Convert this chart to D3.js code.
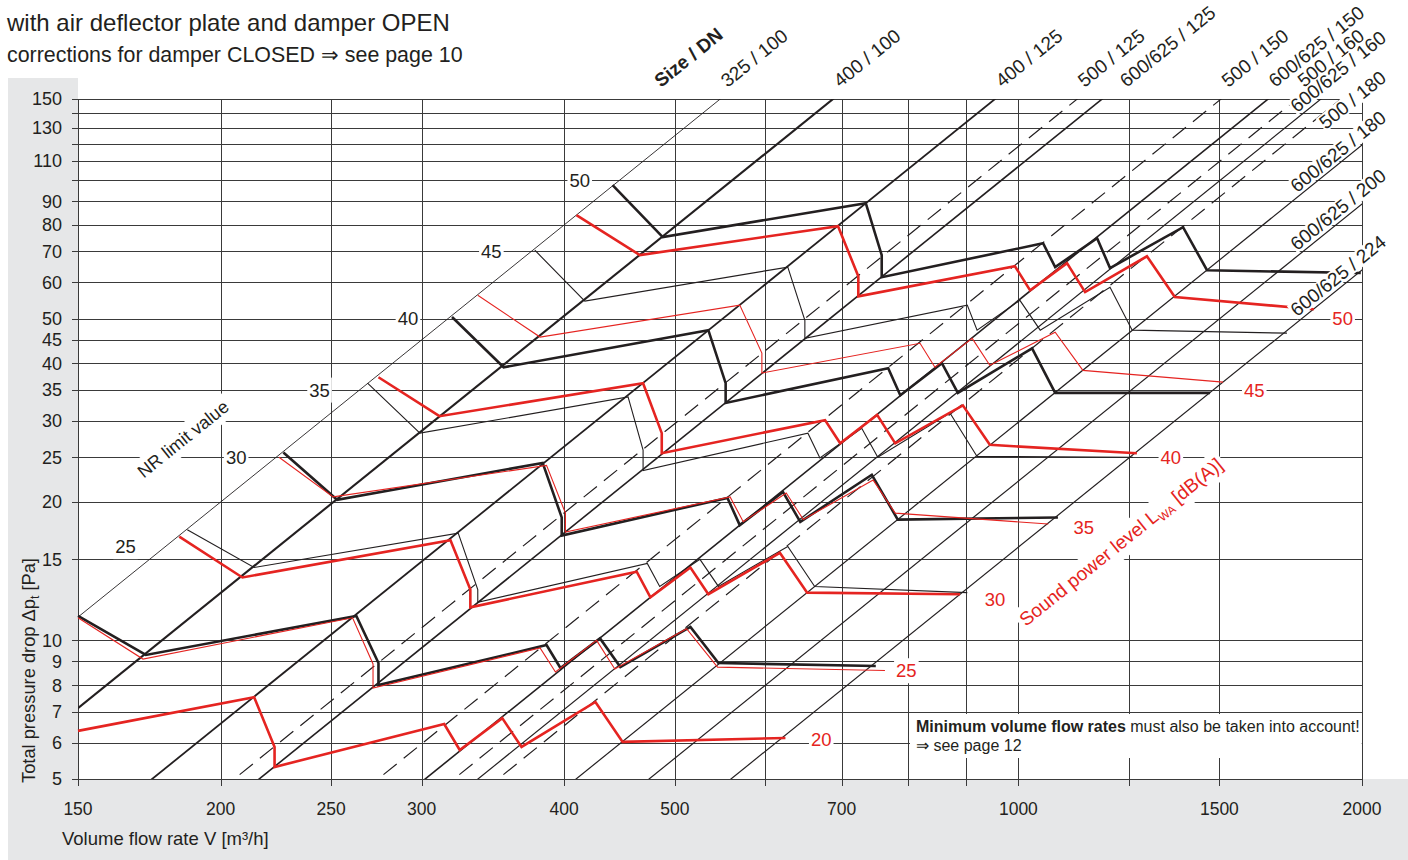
<!DOCTYPE html>
<html>
<head>
<meta charset="utf-8">
<script src="https://cdn.jsdelivr.net/npm/d3@7"></script>
<style>
  body { margin: 0; background: #fff; }
  svg { font-family: "Liberation Sans", Arial, sans-serif; }
</style>
</head>
<body>
<svg width="1408" height="860"></svg>
<script>
// ---- data ----
const flowTicks = [150, 200, 250, 300, 400, 500, 700, 1000, 1500, 2000];
const flowGrid = [150, 200, 250, 300, 400, 500, 600, 700, 800, 900, 1000, 1250, 1500, 2000];
const dpTicks = [5, 6, 7, 8, 9, 10, 15, 20, 25, 30, 35, 40, 45, 50, 60, 70, 80, 90, 110, 130, 150];
const dpGrid = [5, 6, 7, 8, 9, 10, 15, 20, 25, 30, 35, 40, 45, 50, 60, 70, 80, 90, 100, 110, 120, 130, 140, 150];

// size / DN characteristics (dp ~ V^2): flow rate at which each reaches 150 Pa
const sizeNames = ['325 / 100', '400 / 100', '400 / 125', '500 / 125', '600/625 / 125', '500 / 150',
  '600/625 / 150', '500 / 160', '600/625 / 160', '500 / 180', '600/625 / 180', '600/625 / 200', '600/625 / 224'];
const sizeFlowAt150 = [548, 688, 954, 1126, 1184, 1505, 1655, 1754, 1841, 1917, 2244, 2600, 3067];

// NR limit curves [flow m3/h, dp Pa]
const nrLabels = ['', '25', '30', '35', '40', '45', '50'];
const nrLabelDp = [null, 16, 25, 35, 50, 70, 100];
const nrCurves = [
  [[150,11.3],[172,9.30],[263,11.3],[275,8.93],[275,8.0],[386,9.77],[397,8.71],[430,10.1],[448,8.75],[516,10.7],[546,8.93],[750,8.80]],
  [[187,17.4],[214,14.4],[323,17.1],[336,12.9],[336,12.1],[473,14.7],[485,13.1],[526,15.0],[546,13.1],[628,16.0],[663,13.1],[902,12.7]],
  [[227,25.6],[253,20.2],[383,24.3],[398,18.5],[398,16.9],[556,20.4],[570,17.8],[622,21.0],[644,18.1],[744,22.9],[784,18.3],[1083,18.5]],
  [[269,36.2],[299,28.2],[455,33.8],[469,25.9],[469,23.4],[654,28.2],[670,24.9],[729,28.9],[753,25.0],[871,31.2],[920,25.1],[1260,25.0]],
  [[319,50.4],[354,39.2],[535,47.2],[554,36.2],[554,32.8],[769,39.0],[788,34.1],[857,40.0],[885,34.5],[1028,43.1],[1077,34.5],[1472,34.5]],
  [[377,70.4],[417,54.6],[628,64.7],[650,49.6],[650,45.3],[902,53.5],[920,47.2],[1003,54.8],[1045,47.2],[1203,58.5],[1258,47.2],[1719,46.5]],
  [[441,97.5],[488,75.2],[735,89.1],[759,68.7],[759,61.5],[1051,72.9],[1077,64.7],[1172,74.8],[1203,64.4],[1394,79.0],[1463,63.7],[1995,62.8]]
];

// sound power level curves LWA dB(A) [flow m3/h, dp Pa]
const lwaLabels = ['20', '25', '30', '35', '40', '45', '50'];
const lwaLabelDp = [6.1, 8.6, 12.3, 17.6, 25, 35, 50];
const lwaCurves = [
  [[150,6.36],[214,7.53],[223,5.87],[223,5.31],[314,6.58],[324,5.78],[353,6.78],[367,5.87],[426,7.35],[450,6.02],[625,6.14]],
  [[150,11.2],[171,9.11],[261,11.2],[272,8.89],[272,7.88],[381,9.63],[393,8.54],[427,10.0],[443,8.67],[512,10.6],[545,8.75],[764,8.60]],
  [[184,16.8],[209,13.7],[318,16.5],[331,12.9],[331,11.8],[463,14.1],[476,12.4],[516,14.4],[535,12.6],[618,15.5],[653,12.7],[889,12.6]],
  [[225,25.0],[251,20.5],[386,24.0],[401,18.9],[401,17.2],[559,20.5],[574,18.1],[626,20.9],[648,18.3],[746,22.3],[780,18.9],[1062,17.9]],
  [[275,37.3],[311,30.7],[469,36.2],[487,28.2],[487,25.5],[677,30.1],[698,26.8],[752,30.9],[780,26.8],[894,32.4],[944,26.6],[1270,25.5]],
  [[336,56.2],[381,45.6],[570,53.5],[596,42.1],[596,38.1],[820,44.2],[845,39.2],[911,45.3],[944,39.6],[1077,46.7],[1139,38.6],[1511,36.4]],
  [[410,83.9],[466,68.7],[695,79.4],[724,61.8],[724,55.9],[993,65.0],[1024,57.6],[1103,66.0],[1144,57.1],[1296,68.3],[1371,55.7],[1815,52.4]]
];

// ---- drawing ----
const BLACK = '#231f20', RED = '#e52421';
const svg = d3.select('svg');
const x = d3.scaleLog().domain([150, 2000]).range([78, 1362]);
const y = d3.scaleLog().domain([5, 150]).range([779, 99]);
const slope = 2 * (y(5) - y(150)) / Math.log(30) / ((x(2000) - x(150)) / Math.log(2000 / 150));
const ang = -Math.atan(slope) * 180 / Math.PI;
// flow on a size characteristic for a given pressure drop
const onSize = (v150, dp) => v150 * Math.sqrt(dp / 150);

svg.append('rect').attr('x', 8).attr('y', 78).attr('width', 1400).attr('height', 782).attr('fill', '#e6e7e8');
svg.append('rect').attr('x', 78).attr('y', 78).attr('width', 1330).attr('height', 701).attr('fill', '#fff');

// text with a white box behind it (breaks the grid lines like the original)
function boxed(t, pad, trim = 0) {
  const b = t.node().getBBox();
  d3.select(t.node().parentNode).insert('rect', () => t.node())
    .attr('x', b.x - pad).attr('y', b.y - pad + trim)
    .attr('width', b.width + 2 * pad).attr('height', b.height + 2 * pad - 2 * trim)
    .attr('transform', t.attr('transform'))
    .attr('fill', '#fff');
  return t;
}

// title lines
svg.append('text').attr('x', 7).attr('y', 31).attr('font-size', 24).attr('fill', BLACK)
  .text('with air deflector plate and damper OPEN');
svg.append('text').attr('x', 7).attr('y', 62).attr('font-size', 21.4).attr('fill', BLACK)
  .text('corrections for damper CLOSED \u21D2 see page 10');

// grid
const grid = svg.append('g').attr('stroke', '#3a3a3a').attr('stroke-width', 1).attr('shape-rendering', 'crispEdges');
grid.selectAll('.h').data(dpGrid).join('line').attr('class', 'h')
  .attr('x1', 72).attr('x2', x(2000)).attr('y1', d => Math.round(y(d))).attr('y2', d => Math.round(y(d)));
grid.selectAll('.v').data(flowGrid).join('line').attr('class', 'v')
  .attr('y1', y(150)).attr('y2', y(5) + 7).attr('x1', d => Math.round(x(d))).attr('x2', d => Math.round(x(d)));

// tick labels
svg.append('g').selectAll('text').data(dpTicks).join('text')
  .attr('x', 62).attr('y', d => y(d)).attr('dy', '0.36em').attr('text-anchor', 'end')
  .attr('font-size', 18).attr('fill', BLACK).text(d => d);
svg.append('g').selectAll('text').data(flowTicks).join('text')
  .attr('x', d => x(d)).attr('y', 815).attr('text-anchor', 'middle')
  .attr('font-size', 17.5).attr('fill', BLACK).text(d => d);

// axis titles
const yt = svg.append('text').attr('transform', 'translate(35,783) rotate(-90)')
  .attr('font-size', 18.3).attr('fill', BLACK);
yt.append('tspan').text('Total pressure drop \u0394p');
yt.append('tspan').attr('font-size', 12).attr('dy', 4).text('t');
yt.append('tspan').attr('dy', -4).text(' [Pa]');
svg.append('text').attr('x', 62).attr('y', 845).attr('font-size', 18.5).attr('fill', BLACK)
  .text('Volume flow rate V [m\u00B3/h]');

// size lines
svg.append('clipPath').attr('id', 'plot').append('rect')
  .attr('x', 78).attr('y', 99).attr('width', x(2000) - 78).attr('height', y(5) - y(150));
const sizes = svg.append('g').attr('clip-path', 'url(#plot)').attr('fill', 'none').attr('stroke', BLACK);
const line = d3.line().x(d => x(d[0])).y(d => y(d[1]));
sizes.selectAll('path').data(sizeFlowAt150).join('path')
  .attr('d', d => line([[onSize(d, 4), 4], [onSize(d, 160), 160]]))
  .attr('stroke-width', (d, i) => {
    const n = sizeNames[i];
    if (n === '325 / 100') return 0.9;
    if (n === '400 / 100') return 2.1;
    if (n === '400 / 125') return 1.8;
    if (n === '600/625 / 125' || n === '600/625 / 150') return 1.6;
    return 1.2;
  })
  .attr('stroke-dasharray', (d, i) => sizeNames[i].startsWith('500') ? '17,9' : null);

// curves
const curves = svg.append('g').attr('fill', 'none').attr('stroke-linejoin', 'miter');
curves.selectAll('.nr').data(nrCurves).join('path').attr('class', 'nr')
  .attr('d', line).attr('stroke', BLACK).attr('stroke-width', (d, i) => i % 2 === 0 ? 2.6 : 1.1);
curves.selectAll('.lwa').data(lwaCurves).join('path').attr('class', 'lwa')
  .attr('d', line).attr('stroke', RED).attr('stroke-width', (d, i) => i % 2 === 0 ? 2.6 : 1.1);

// labels
const labels = svg.append('g');
nrLabels.forEach((lab, i) => {
  if (!lab) return;
  const p = nrLabelDp[i];
  const t = labels.append('text').attr('transform', `translate(${x(onSize(sizeFlowAt150[0], p)) - 40},${y(p)})`)
    .attr('text-anchor', 'middle').attr('dy', '0.36em').attr('font-size', 18.5).attr('fill', BLACK).text(lab);
  boxed(t, 2);
});
const last = sizeFlowAt150[sizeFlowAt150.length - 1];
lwaLabels.forEach((lab, i) => {
  const p = lwaLabelDp[i];
  const t = labels.append('text').attr('transform', `translate(${x(onSize(last, p)) + 41},${y(p)})`)
    .attr('text-anchor', 'middle').attr('dy', '0.36em').attr('font-size', 18.5).attr('fill', RED).text(lab);
  boxed(t, 2);
});

// size labels: along the top edge, or stacked at the right edge
let prevTop = -Infinity, prevRight = -Infinity;
sizeFlowAt150.forEach((v, i) => {
  let px, py, anchor = 'start';
  if (x(v) <= 1300) {
    px = x(onSize(v, 156)); py = y(156);
    if (px - prevTop < 28) px = prevTop + 42;   // keep close labels apart
    prevTop = px;
  } else {
    px = 1390; anchor = 'end';
    py = Math.max(y(150 * Math.pow(x.invert(px) / v, 2)), prevRight + 40);
    prevRight = py;
  }
  const t = labels.append('text').attr('transform', `translate(${px},${py}) rotate(${ang})`)
    .attr('text-anchor', anchor).attr('dy', -4).attr('font-size', 19).attr('fill', BLACK).text(sizeNames[i]);
  boxed(t, 1, 3);
});
labels.append('text').attr('transform', `translate(661,88) rotate(${ang})`)
  .attr('font-size', 19).attr('font-weight', 'bold').attr('fill', BLACK).text('Size / DN');

boxed(labels.append('text').attr('transform', `translate(183,439) rotate(${ang})`)
  .attr('text-anchor', 'middle').attr('dy', '0.35em').attr('font-size', 18).attr('fill', BLACK)
  .text('NR limit value'), 3);

const sp = labels.append('text').attr('transform', `translate(1026,627) rotate(${ang})`)
  .attr('font-size', 19).attr('fill', RED);
sp.append('tspan').text('Sound power level L');
sp.append('tspan').attr('font-size', 11.5).attr('dy', 4).text('WA');
sp.append('tspan').attr('dy', -4).text(' [dB(A)]');
boxed(sp, 3);

// note
const note = labels.append('g');
const n1 = note.append('text').attr('x', 916).attr('y', 732).attr('font-size', 16).attr('fill', BLACK);
n1.append('tspan').attr('font-weight', 'bold').text('Minimum volume flow rates');
n1.append('tspan').text(' must also be taken into account!');
const n2 = note.append('text').attr('x', 916).attr('y', 751).attr('font-size', 16).attr('fill', BLACK)
  .text('\u21D2 see page 12');
const b1 = n1.node().getBBox(), b2 = n2.node().getBBox();
note.insert('rect', 'text').attr('x', b1.x - 6).attr('y', b1.y - 4)
  .attr('width', Math.max(b1.width, b2.width) + 8).attr('height', b2.y + b2.height - b1.y + 8).attr('fill', '#fff');
</script>
</body>
</html>
